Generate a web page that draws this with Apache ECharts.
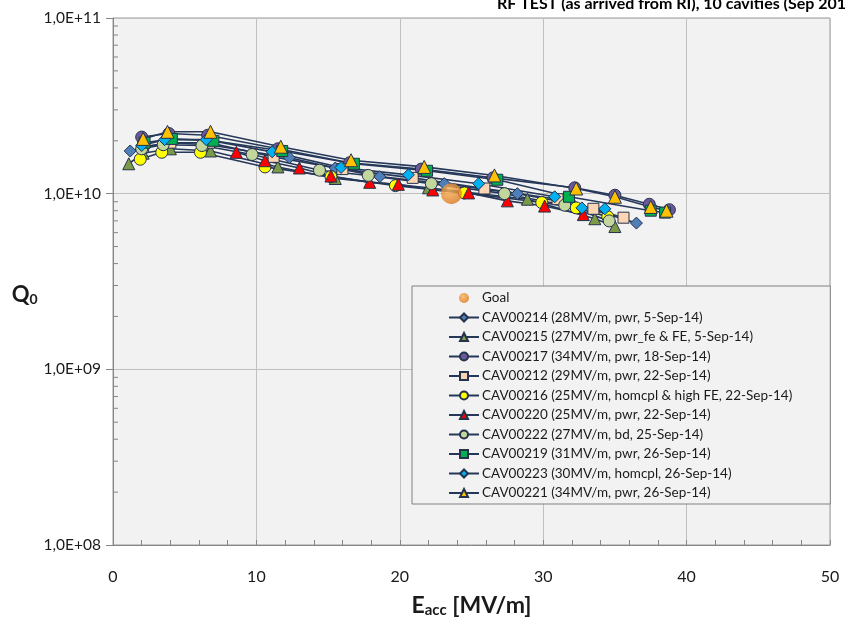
<!DOCTYPE html>
<html>
<head>
<meta charset="utf-8">
<script src="https://cdn.jsdelivr.net/npm/echarts@6/dist/echarts.min.js"></script>
<style>
  html, body { margin: 0; padding: 0; background: #fff; }
  #chart { width: 845px; height: 623px; }
</style>
</head>
<body>
<div id="chart"></div>
<script>
// values: [Eacc MV/m, Q0]
const goal = [[23.6, 1.0e10]];
const cav214 = [[1.2, 1.75e10], [2.2, 1.85e10], [4.0, 1.95e10], [6.7, 1.9e10], [12.3, 1.6e10], [15.5, 1.4e10], [18.6, 1.25e10], [23.1, 1.14e10], [28.2, 1.0e10], [32.0, 0.88e10], [36.5, 0.68e10]];
const cav215 = [[1.1, 1.48e10], [2.1, 1.7e10], [4.0, 1.8e10], [6.8, 1.75e10], [11.5, 1.42e10], [15.5, 1.22e10], [22.0, 1.08e10], [28.9, 0.93e10], [33.6, 0.72e10], [35.0, 0.65e10]];
const cav217 = [[2.0, 2.1e10], [3.9, 2.2e10], [6.6, 2.15e10], [11.5, 1.8e10], [16.5, 1.5e10], [21.5, 1.38e10], [26.5, 1.23e10], [32.2, 1.08e10], [35.0, 0.98e10], [37.4, 0.87e10], [38.8, 0.81e10]];
const cav212 = [[2.1, 1.85e10], [4.0, 1.95e10], [6.7, 1.95e10], [11.2, 1.62e10], [16.0, 1.38e10], [20.9, 1.23e10], [25.9, 1.07e10], [31.0, 0.93e10], [33.5, 0.82e10], [35.6, 0.73e10]];
const cav216 = [[1.9, 1.57e10], [3.4, 1.72e10], [6.1, 1.72e10], [10.6, 1.42e10], [15.2, 1.25e10], [19.7, 1.11e10], [24.5, 1.01e10], [29.9, 0.89e10], [32.3, 0.83e10], [34.5, 0.74e10]];
const cav220 = [[8.6, 1.72e10], [10.6, 1.54e10], [13.0, 1.4e10], [15.2, 1.26e10], [17.9, 1.16e10], [19.9, 1.13e10], [22.3, 1.05e10], [24.8, 1.01e10], [27.5, 0.91e10], [30.1, 0.85e10], [32.8, 0.76e10]];
const cav222 = [[2.0, 1.8e10], [3.5, 1.9e10], [6.2, 1.88e10], [9.7, 1.67e10], [14.4, 1.36e10], [17.8, 1.27e10], [22.2, 1.14e10], [27.3, 1.0e10], [31.5, 0.86e10], [34.6, 0.70e10]];
const cav219 = [[2.2, 1.95e10], [4.1, 2.05e10], [7.0, 2.0e10], [11.8, 1.75e10], [16.8, 1.48e10], [21.9, 1.35e10], [26.8, 1.2e10], [31.8, 0.96e10], [37.5, 0.8e10], [38.5, 0.78e10]];
const cav223 = [[2.0, 1.88e10], [3.6, 2.03e10], [6.5, 2.03e10], [11.1, 1.73e10], [15.9, 1.41e10], [20.6, 1.28e10], [25.5, 1.14e10], [30.8, 0.96e10], [32.7, 0.83e10], [34.3, 0.82e10]];
const cav221 = [[2.1, 2.05e10], [3.8, 2.25e10], [6.8, 2.25e10], [11.7, 1.85e10], [16.6, 1.55e10], [21.7, 1.42e10], [26.6, 1.27e10], [32.3, 1.07e10], [35.0, 0.96e10], [37.5, 0.84e10], [38.6, 0.8e10]];

// log minor ticks on the Q0 axis
const yMinor = [];
[1e8, 1e9, 1e10].forEach(d => { for (let k = 2; k <= 9; k++) yMinor.push(k * d); });

const font = 'Lato, "Liberation Sans", sans-serif';
const lineColor = '#26385a';
const diamond = 'path://M0,-1L1,0L0,1L-1,0Z';

const cavities = [
  { name: 'CAV00214 (28MV/m, pwr, 5-Sep-14)', data: cav214, symbol: diamond, size: 12, color: '#4f7fb8' },
  { name: 'CAV00215 (27MV/m, pwr_fe & FE, 5-Sep-14)', data: cav215, symbol: 'triangle', size: 12, color: '#7a9a48' },
  { name: 'CAV00217 (34MV/m, pwr, 18-Sep-14)', data: cav217, symbol: 'circle', size: 12, color: '#6a5a9c' },
  { name: 'CAV00212 (29MV/m, pwr, 22-Sep-14)', data: cav212, symbol: 'rect', size: 11, color: '#fcd5b5' },
  { name: 'CAV00216 (25MV/m, homcpl & high FE, 22-Sep-14)', data: cav216, symbol: 'circle', size: 12, color: '#ffff00' },
  { name: 'CAV00220 (25MV/m, pwr, 22-Sep-14)', data: cav220, symbol: 'triangle', size: 12, color: '#ff0000' },
  { name: 'CAV00222 (27MV/m, bd, 25-Sep-14)', data: cav222, symbol: 'circle', size: 12, color: '#c3d69b' },
  { name: 'CAV00219 (31MV/m, pwr, 26-Sep-14)', data: cav219, symbol: 'rect', size: 11, color: '#00b050' },
  { name: 'CAV00223 (30MV/m, homcpl, 26-Sep-14)', data: cav223, symbol: diamond, size: 12, color: '#00b0f0' },
  { name: 'CAV00221 (34MV/m, pwr, 26-Sep-14)', data: cav221, symbol: 'triangle', size: 13, color: '#ffc000' }
];

const series = [{
  name: 'Goal',
  type: 'scatter',
  data: goal,
  symbolSize: 21,
  z: 5,
  itemStyle: {
    color: new echarts.graphic.RadialGradient(0.4, 0.35, 0.7, [
      { offset: 0, color: '#fbb55a' },
      { offset: 1, color: '#d9741a' }
    ])
  }
}];

cavities.forEach(c => {
  series.push({
    name: c.name,
    type: 'line',
    data: c.data,
    symbol: c.symbol,
    symbolSize: c.size,
    showAllSymbol: true,
    lineStyle: { color: lineColor, width: 1.6 },
    itemStyle: { color: c.color, borderColor: '#24324c', borderWidth: 1 },
    emphasis: { disabled: true }
  });
});

series.push({
  type: 'custom',
  data: yMinor.map(v => [0, v]),
  silent: true,
  renderItem: function (params, api) {
    const p = api.coord([0, api.value(1)]);
    return {
      type: 'line',
      shape: { x1: p[0], y1: p[1], x2: p[0] + 5, y2: p[1] },
      style: { stroke: '#868686', lineWidth: 1 }
    };
  }
});

const chart = echarts.init(document.getElementById('chart'));
chart.setOption({
  animation: false,
  backgroundColor: '#ffffff',
  textStyle: { fontFamily: font },
  title: {
    text: 'RF TEST (as arrived from RI), 10 cavities (Sep 2014)',
    left: 497,
    top: -4,
    padding: 0,
    textStyle: { fontFamily: font, fontSize: 16, fontWeight: 'bold', color: '#000' }
  },
  grid: {
    left: 113, right: 15, top: 18, bottom: 78,
    show: true, backgroundColor: '#f2f2f2', borderColor: '#9a9a9a', borderWidth: 1
  },
  legend: {
    data: ['Goal'].concat(cavities.map(c => c.name)),
    orient: 'vertical',
    left: 412,
    top: 286,
    itemWidth: 30,
    itemHeight: 10,
    itemGap: 5.5,
    padding: [5, 38, 4, 36],
    backgroundColor: '#f2f2f2',
    borderColor: '#808080',
    borderWidth: 1,
    borderRadius: 0,
    selectedMode: false,
    textStyle: { fontFamily: font, fontSize: 13.5, color: '#1a1a1a', padding: [0, 0, 0, -2] }
  },
  xAxis: {
    type: 'value',
    min: 0, max: 50, interval: 10,
    name: '{b|E}{s|acc}{b| [MV/m]}',
    nameLocation: 'middle',
    nameGap: 48,
    nameTextStyle: {
      rich: {
        b: { fontFamily: font, fontSize: 23, fontWeight: 'bold', color: '#1a1a1a' },
        s: { fontFamily: font, fontSize: 15, fontWeight: 'bold', color: '#1a1a1a', padding: [10, 0, 0, 0] }
      }
    },
    axisLine: { lineStyle: { color: '#868686' } },
    axisTick: { show: true, inside: true, length: 5, lineStyle: { color: '#868686' } },
    minorTick: { show: true, splitNumber: 5, length: 5, lineStyle: { color: '#868686' } },
    splitLine: { show: true, lineStyle: { color: '#c0c0c0' } },
    axisLabel: { fontFamily: font, fontSize: 16, color: '#1a1a1a', margin: 24 }
  },
  yAxis: {
    type: 'log',
    logBase: 10,
    min: 1e8, max: 1e11,
    name: '{b|Q}{s|0}',
    nameLocation: 'middle',
    nameGap: 70,
    nameRotate: 0,
    nameTextStyle: {
      padding: [26, 0, 0, 0],
      rich: {
        b: { fontFamily: font, fontSize: 22, fontWeight: 'bold', color: '#1a1a1a' },
        s: { fontFamily: font, fontSize: 14, fontWeight: 'bold', color: '#1a1a1a', padding: [9, 0, 0, 0] }
      }
    },
    axisLine: { show: true, lineStyle: { color: '#868686' } },
    axisTick: { show: true, length: 7, lineStyle: { color: '#868686' } },
    splitLine: { show: true, lineStyle: { color: '#c0c0c0' } },
    axisLabel: {
      fontFamily: font, fontSize: 15.5, color: '#1a1a1a', margin: 12,
      formatter: v => '1,0E+' + String(Math.round(Math.log10(v))).padStart(2, '0')
    }
  },
  series: series
});
</script>
</body>
</html>
